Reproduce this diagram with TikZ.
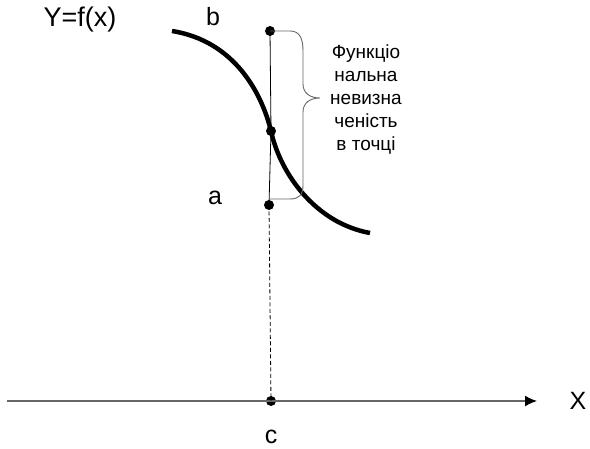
\documentclass[tikz,border=0pt]{standalone}
\usepackage{fontspec}
\setmainfont{Liberation Sans}
\usetikzlibrary{arrows.meta}
\begin{document}
\begin{tikzpicture}[x=1pt,y=1pt,
  dot/.style={circle,fill=black,inner sep=0pt,minimum size=10pt},
  lbl/.style={font=\fontsize{25}{29}\selectfont,inner sep=0pt},
  axisline/.style={draw=black!60,line width=1.4pt,-{Latex[length=12pt,width=11pt,black]}},
  curveline/.style={line width=4.5pt},
  bracestyle/.style={draw=black!60,line width=0.9pt},
  thinline/.style={line width=0.8pt},
  dashline/.style={line width=0.8pt,dash pattern=on 4pt off 2.5pt}]
\useasboundingbox (0,0) rectangle (590,449);
% points
\node[dot] (b) at (270,418) {};
\node[dot] (m) at (271,318) {};
\node[dot] (a) at (269,244) {};
\node[dot] (c) at (271,48) {};
\coordinate (xs) at (7,48);
\coordinate (xe) at (537,48);
% axis
\draw[axisline] (xs) -- (xe);
% vertical lines
\draw[thinline] (b.center) -- (m.center) -- (a.center);
\draw[dashline] (a.center) -- (c.center);
% curve
\coordinate (cs) at (172,418);
\coordinate (ce) at (370,216);
\draw[curveline] (cs) .. controls (235,408) and (262,355) .. (m.center)
  .. controls (280,276) and (315,226) .. (ce);
% brace
\draw[bracestyle] (b.center) -- (290,418) .. controls (300,418) and (303,410) .. (303,398)
  -- (303,365) .. controls (303,356) and (310,351) .. (320,351)
  .. controls (310,351) and (303,346) .. (303,337)
  -- (303,264) .. controls (303,254) and (299,250) .. (290,250) -- (269,250);
% labels
\node[lbl] (lb) at (213,432) {b};
\node[lbl] (la) at (215,251) {a};
\node[lbl] (lc) at (271,12) {c};
\node[lbl] (lx) at (578,48) {X};
\node[font=\fontsize{27}{31}\selectfont,inner sep=0pt] (lf) at (80,429) {Y=f(x)};
\node[font=\fontsize{19}{23}\selectfont,align=center,inner sep=0pt] (txt) at (366,349)
  {Функціо\\нальна\\невизна\\ченість\\в точці};
\end{tikzpicture}
\end{document}
